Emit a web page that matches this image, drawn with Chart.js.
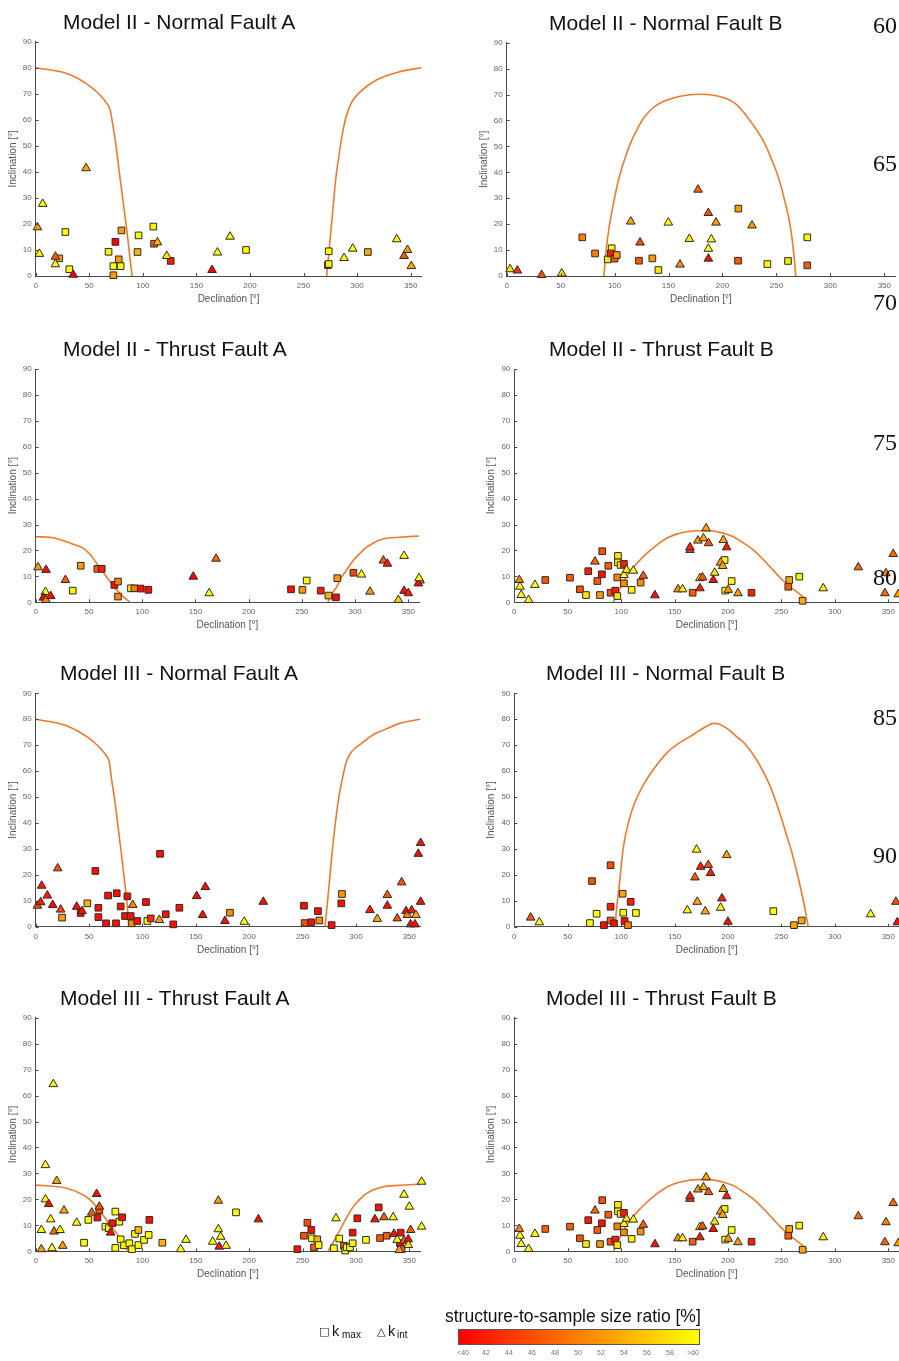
<!DOCTYPE html>
<html>
<head>
<meta charset="utf-8">
<script src="https://cdn.jsdelivr.net/npm/chart.js@4.4.0/dist/chart.umd.min.js"></script>
<style>
  html, body { margin: 0; padding: 0; background: #fff; }
  body { width: 899px; height: 1361px; position: relative; overflow: hidden; font-family: Arial, "Liberation Sans", sans-serif; }
  canvas { position: absolute; }
  .title { position: absolute; font-size: 21px; line-height: 1; color: #111; white-space: nowrap; transform: translateY(-50%); }
  .lineno { position: absolute; left: 873px; font-family: "Liberation Serif", "Times New Roman", serif; font-size: 24px; line-height: 1; color: #111; transform: translateY(-50%); }
  .abs { position: absolute; line-height: 1; white-space: nowrap; color: #111; will-change: transform; }
  .sym { font-family: "DejaVu Sans", sans-serif; font-size: 11px; }
  .cbl { position: absolute; top: 1349px; font-size: 7px; line-height: 1; color: #777; transform: translateX(-50%); will-change: transform; }
  .cbt { position: absolute; top: 1340px; width: 1px; height: 3px; background: #666; }
</style>
</head>
<body>
<div id="root"></div>
<script>
'use strict';

// rows are [declination, inclination, structure-to-sample size ratio %]
const m2NormalA_kmax = [[22,6.8,52],[27.7,16.9,60],[31.4,2.6,60],[68,9.3,59],[72.5,3.8,60],[72.5,0.3,52],[74.4,13.1,40],[77.5,6.4,52],[79.3,3.8,60],[80,17.5,52],[96,15.6,60],[95,9.2,54],[109.8,19,59],[110.5,12.4,47],[126,5.8,42],[196.3,10,60],[273.5,9.5,60],[272.8,4.2,42],[273.5,4.6,59],[310,9.2,53]];
const m2NormalA_kint = [[1.6,18.7,52],[3.4,8.5,60],[6.5,27.7,60],[18.4,7.4,47],[18.4,4.5,60],[35,0.5,40],[47,41.4,53],[113.6,12.9,54],[122.3,7.7,58],[164.6,2.3,40],[169.6,9,60],[181.4,15.1,59],[287.8,6.9,60],[295.9,10.5,60],[337,14.1,59],[343.8,7.7,47],[347,10,52],[350.6,3.8,53]];
const m2NormalA_curveL = [[0,80],[29,77.8],[49,73.4],[60,69.5],[66,66.5],[69.5,63.8],[72,58],[75,50],[78,40],[81,30.5],[84,21],[86.5,12.5],[88.5,5],[90,0]];
const m2NormalA_curveR = [[271.5,0],[273,6],[275,15],[277.5,26],[280,37],[283,46],[286,54],[289,60],[292,64],[296,67.5],[303,70.8],[318,75.3],[340,78.5],[360,80]];

const m2NormalB_kmax = [[70.1,14.9,50],[81.9,8.7,50],[93.6,6.4,58],[97.3,10.7,60],[96.4,8.7,42],[100,6.7,47],[102,8.1,52],[122.6,5.9,47],[135,6.8,52],[140.6,2.3,58],[214.7,26,52],[214.4,5.9,47],[241.6,4.6,60],[260.7,5.8,58],[278.6,14.9,60],[278.6,4.1,47]];
const m2NormalB_kint = [[3.1,2.6,58],[9.9,2.1,44],[32.4,0.4,46],[51,1,58],[115,21,53],[123.6,12.9,46],[149.8,20.6,60],[160.6,4.4,51],[169.3,14.3,59],[177.3,33.3,48],[186.9,24.3,46],[186.9,10.5,60],[186.9,6.7,41],[189.7,14.1,60],[194,20.6,52],[227.4,19.5,52]];
const m2NormalB_curve = [[90,0],[92.5,11],[95,19],[99,28],[103,36],[108,43.4],[114,50.5],[120.5,56.3],[128,61.5],[136,65],[145,67.3],[154,68.6],[165,69.6],[179,70.1],[193,69.6],[204,68.4],[212,66.5],[219,63.5],[228,58.5],[238,52],[246,44.5],[253,36.5],[258,28.5],[262.5,20],[265.5,11],[268,0]];

const m2ThrustA_kmax = [[34.8,4.5,59],[42.3,14.1,52],[57.9,12.9,47],[62,12.9,42],[73.9,6.7,41],[77.3,8,50],[77.3,2.2,51],[89.5,5.4,60],[92.7,5.4,50],[98.6,5.3,41],[105.8,4.8,41],[239.8,5,41],[250.5,4.8,52],[254.5,8.4,60],[267.7,4.5,42],[274.9,2.6,54],[282,1.9,41],[283.3,9.3,52],[298.4,11.4,45]];
const m2ThrustA_kint = [[2.2,13.5,52],[9.7,12.5,41],[9.1,4,60],[7.2,1.8,40],[9.7,0.9,50],[14.1,2.4,41],[27.9,8.6,47],[148,9.9,40],[163,3.5,60],[169.4,16.8,48],[306,10.7,60],[314,4.1,52],[326.5,16.1,47],[330.3,14.9,42],[340.6,0.9,56],[346,17.9,60],[346,4.4,41],[350,3.5,42],[361,8.4,50],[359.4,7.3,41],[360,9.3,60]];
const m2ThrustA_curveL = [[0,25.3],[15,25],[29,23.4],[38,22],[44.8,20.8],[51,18.5],[57.3,15],[63,11.8],[69.8,8],[76,4.8],[82.3,2.2],[86,0.8],[88.6,0]];
const m2ThrustA_curveR = [[274.5,0],[276.4,2],[282.7,6],[287,9.5],[292,12.5],[298,16],[304.6,18.9],[310,21],[317,22.8],[323,24],[329.7,24.7],[342,25.1],[360,25.6]];

const m2ThrustB_kmax = [[29,8.6,47],[52.1,9.5,47],[61.4,5,46],[67.1,2.8,58],[69.2,12,42],[77.7,8.2,47],[80.2,2.8,52],[82.3,19.7,46],[82,10.8,41],[88,14.1,47],[90.1,3.7,46],[94.5,4.5,42],[96.4,9.6,50],[97,17.9,58],[97,15.4,59],[96.4,2.4,58],[99.5,14.4,58],[102.6,14.8,42],[102.6,7.3,51],[109.8,4.8,59],[118.2,7.6,51],[166.9,3.7,47],[196.8,16.3,59],[197.4,4.5,60],[203.4,8.2,60],[222,3.7,42],[256.4,6,47],[257.3,8.6,53],[266.7,9.9,59],[269.8,0.6,53]];
const m2ThrustB_kint = [[4.7,8.6,50],[5.3,6,60],[6.5,2.8,60],[13.4,0.9,59],[19.3,6.7,60],[75.5,15.7,48],[102.6,10.5,60],[105.1,12.5,58],[111.4,12.2,60],[120.7,10.2,47],[131.6,2.7,41],[153.2,5,51],[157.5,5,59],[164.4,20.2,45],[164.4,21.2,42],[171.9,23.8,52],[173.7,9.3,58],[176.2,9.6,47],[173.7,5.4,42],[177,24.7,53],[179.5,28.5,53],[181.8,22.8,47],[186.2,8.6,41],[187.5,11.4,58],[193,15.3,52],[195,14,53],[195.6,24,53],[198.7,21.2,42],[200.2,4.8,52],[209.3,3.5,52],[289.1,5.4,59],[321.9,13.5,48],[347.8,11.2,50],[346.8,3.5,48],[354.6,18.6,48],[359.3,3.1,52]];
const m2ThrustB_curve = [[92.6,0],[98,4.5],[105,9.9],[114,14.7],[124,18.9],[133,22],[142.5,24.7],[152,26.3],[161,27.2],[172,27.6],[183,27.6],[194,26.8],[205,25.3],[214,23],[223.6,20.2],[233,16.5],[242,12.5],[250,9],[258,6],[265,3.8],[273.5,1]];

const m3NormalA_kmax = [[24.7,3.5,52],[42.1,5.3,41],[48.4,9,54],[55.9,21.5,41],[58.7,7.3,41],[58.7,3.7,41],[65.9,1.3,41],[67.8,12,41],[75.2,1.3,41],[75.9,12.9,41],[79.6,7.8,41],[83.7,4.1,41],[85.9,11.7,41],[89,4.1,41],[89.9,1.3,51],[95.2,2.2,41],[103.3,9.5,41],[104.6,2.2,60],[107.7,3.2,43],[116.5,28.1,41],[121.8,4.8,41],[128.9,0.9,41],[134.6,7.3,41],[182,5.4,51],[251.3,8.1,41],[251.9,1.4,46],[258.2,1.7,41],[264.4,6,41],[265.7,2.4,51],[277.2,0.6,41],[286.3,9,41],[286.9,12.6,52]];
const m3NormalA_kint = [[1.6,8.1,46],[4.7,9.4,42],[5.6,15.8,42],[10.9,12,42],[15.9,8.4,41],[20.6,22.5,46],[23.4,6.6,45],[38.4,7.7,41],[43.4,6,41],[90.9,8.4,50],[115.8,2.6,52],[150.8,11.8,41],[156.4,4.5,41],[158.9,15.3,41],[177.3,2.2,41],[195.4,1.9,60],[213.2,9.6,41],[313.1,6.4,42],[320,3,53],[329.4,12.2,47],[329.4,8.1,41],[338.7,3.2,46],[342.8,17.1,46],[346.9,6,41],[348.1,4.5,50],[351.2,0.9,41],[352.2,6.3,42],[356.2,4.5,53],[355.3,0.9,41],[358.4,28.1,41],[360.6,32.3,41],[360.6,9.6,41]];
const m3NormalA_curveL = [[0,80],[29,77.5],[49,73],[60,69],[66,66],[69,63.5],[71,57],[74,49],[77,39],[80,29],[83,18.5],[85.5,9],[87.5,0]];
const m3NormalA_curveR = [[271,0],[273,8],[275.5,19],[278,30],[281,41],[284,50],[287.5,57.5],[291,63.6],[296,67.5],[303.8,70.2],[318,74.5],[326,75.8],[341,78.4],[360,80]];

const m3NormalB_kmax = [[70.8,1.4,60],[72.7,17.6,46],[77,5,60],[83.9,0.6,41],[90.1,23.7,46],[90.1,7.7,42],[90.1,2.4,47],[93.3,1.3,41],[101.4,12.7,53],[102,5.4,59],[103.2,2.2,41],[106.4,0.6,50],[108.9,9.6,42],[113.8,5.3,60],[242.4,6,60],[261.7,0.6,53],[268.9,2.4,53]];
const m3NormalB_kint = [[15.3,3.5,47],[23.4,1.7,60],[161.9,6.3,59],[170.6,29.7,60],[169.1,19,47],[171.2,9.6,53],[174.4,23.1,42],[178.7,5.9,53],[181.5,23.8,46],[183.7,20.7,42],[193.1,7.3,59],[194.3,10.9,42],[198.7,27.6,53],[199.9,1.9,41],[333.4,4.8,60],[357.1,9.6,46],[358.4,1.7,41]];
const m3NormalB_curve = [[94.2,0],[96,8],[98.3,16],[100.4,25],[103,33],[106.7,40],[112,47],[120.7,54.6],[130,60.5],[144,67.5],[155,71],[164,73.2],[172,75.3],[180,77.3],[186,78.4],[192,78.1],[200,76.2],[208,73.3],[217,70],[228,63.5],[239,54.6],[245,48],[250,41.8],[255,35],[259.5,29],[263.5,22.5],[267.3,16],[271.5,8],[275,0]];

const m3ThrustA_kmax = [[45.3,3.3,60],[49.3,12.1,60],[57.8,13,41],[59.6,15.9,46],[65.3,9.5,60],[68.4,8.9,59],[71.8,10.8,41],[74.6,1.3,60],[74.6,15.3,60],[78.4,11.4,60],[80.9,13.1,41],[79.6,4.6,60],[82.7,2.3,59],[87.7,3.1,60],[90.2,0.8,60],[93,6.7,60],[96.2,8.2,54],[96.2,2.4,60],[101.5,4.4,60],[105.8,6.3,60],[106.5,12.1,41],[118.6,3.3,54],[187.6,15,60],[245.1,0.8,41],[251.3,6,46],[254.5,11,46],[258.2,8.2,41],[258.8,5,60],[260.7,1.5,47],[263.8,4.6,54],[265,2.4,60],[279.4,1.2,60],[284.4,4.9,60],[288.8,2.1,47],[290,0.3,60],[291.3,1.5,60],[294.4,1.5,60],[296.9,7.2,41],[296.9,3.1,59],[301.3,12.7,41],[309.4,4.4,60],[321.3,16.9,41],[322.6,5.1,47],[328.8,6,47],[341.9,7.2,41],[341.3,3.1,41],[342.8,0.8,47]];
const m3ThrustA_kint = [[5.3,0.8,52],[5.3,8.2,60],[9.1,33.2,60],[9.1,20,60],[12.2,18.2,41],[14,12.3,60],[15.3,1.2,60],[16.5,64.4,59],[17.2,7.6,48],[19.7,27.1,53],[22.8,8.2,60],[25.3,2.1,52],[26.5,15.7,53],[38.4,11,60],[52.5,14.9,47],[57.1,22.1,41],[59.6,17.2,46],[70.2,7.2,41],[135.8,0.8,60],[140.8,4.4,60],[165.8,3.7,60],[171.1,19.5,52],[171.1,8.5,59],[172,1.8,41],[173.3,5.6,60],[178.3,2.1,60],[208.6,12.3,41],[281.3,12.7,60],[317.8,12.3,41],[326.3,13.1,47],[334.9,13.1,60],[335.6,6.7,41],[338.7,4.4,60],[340.6,0.5,52],[345,21.8,60],[345,4.1,47],[349,4.6,41],[350,17.2,60],[351.2,8.2,47],[349,2.4,58],[361.5,26.8,59],[361.5,9.5,60]];
const m3ThrustA_curveL = [[0,25.5],[29,24.3],[44.6,21.7],[51,19.8],[57,17.2],[62,14.5],[66.5,12],[71,9.5],[75.9,6.9],[80,4.2],[83.7,1.8],[87,0]];
const m3ThrustA_curveR = [[274,0],[278,3],[281.5,5.5],[285,8.2],[291,12.8],[297.5,17.2],[304,20.2],[310,22.3],[317,23.8],[325.6,24.9],[340,25.4],[360,25.9]];

// the Model III thrust B panel repeats the Model II thrust B values
const m3ThrustB_kmax = m2ThrustB_kmax;
const m3ThrustB_kint = m2ThrustB_kint;
const m3ThrustB_curve = m2ThrustB_curve;

const colorbarLabels = ['<40','42','44','46','48','50','52','54','56','58','>60'];
const lineNumbers = ['60','65','70','75','80','85','90'];

// page layout: plot box [left, top, x=360 px, bottom] and title spot
const panels = [
  { title: 'Model II - Normal Fault A', kmax: m2NormalA_kmax, kint: m2NormalA_kint, curves: [m2NormalA_curveL, m2NormalA_curveR], box: [35.7, 41.7, 421.4, 276], tx: 63 },
  { title: 'Model II - Normal Fault B', kmax: m2NormalB_kmax, kint: m2NormalB_kint, curves: [m2NormalB_curve], box: [506.7, 42.7, 895.1, 276], tx: 549 },
  { title: 'Model II - Thrust Fault A', kmax: m2ThrustA_kmax, kint: m2ThrustA_kint, curves: [m2ThrustA_curveL, m2ThrustA_curveR], box: [35.7, 369, 419, 602.3], tx: 63 },
  { title: 'Model II - Thrust Fault B', kmax: m2ThrustB_kmax, kint: m2ThrustB_kint, curves: [m2ThrustB_curve], box: [514.3, 369, 899, 602.3], tx: 549 },
  { title: 'Model III - Normal Fault A', kmax: m3NormalA_kmax, kint: m3NormalA_kint, curves: [m3NormalA_curveL, m3NormalA_curveR], box: [35.7, 693.3, 420, 926.7], tx: 60 },
  { title: 'Model III - Normal Fault B', kmax: m3NormalB_kmax, kint: m3NormalB_kint, curves: [m3NormalB_curve], box: [514.3, 693.3, 899, 926.7], tx: 546 },
  { title: 'Model III - Thrust Fault A', kmax: m3ThrustA_kmax, kint: m3ThrustA_kint, curves: [m3ThrustA_curveL, m3ThrustA_curveR], box: [35.7, 1017.7, 420, 1251.3], tx: 60 },
  { title: 'Model III - Thrust Fault B', kmax: m3ThrustB_kmax, kint: m3ThrustB_kint, curves: [m3ThrustB_curve], box: [514.3, 1017.7, 899, 1251.3], tx: 546 }
];

Chart.defaults.font.family = 'Arial, "Liberation Sans", sans-serif';

function ratioColor(r) {
  let t = (r - 40) / 20;
  t = Math.max(0, Math.min(1, t));
  return 'rgb(255,' + Math.round(255 * t) + ',0)';
}

// matlab style ticks pointing into the plot
const inwardTicks = {
  id: 'inwardTicks',
  afterDraw(chart) {
    const ctx = chart.ctx;
    const xs = chart.scales.x, ys = chart.scales.y;
    const a = chart.chartArea;
    ctx.save();
    ctx.strokeStyle = '#4a4a4a';
    ctx.lineWidth = 1;
    ctx.beginPath();
    xs.ticks.forEach(t => {
      const px = Math.round(xs.getPixelForValue(t.value)) + 0.5;
      ctx.moveTo(px, a.bottom);
      ctx.lineTo(px, a.bottom - 3);
    });
    ys.ticks.forEach(t => {
      const py = Math.round(ys.getPixelForValue(t.value)) + 0.5;
      ctx.moveTo(a.left, py);
      ctx.lineTo(a.left + 3, py);
    });
    ctx.stroke();
    ctx.restore();
  }
};

function pointSet(rows, style, radius, order) {
  return {
    data: rows.map(r => ({ x: r[0], y: r[1] })),
    pointStyle: style,
    pointRadius: radius,
    pointBackgroundColor: rows.map(r => ratioColor(r[2])),
    pointBorderColor: '#2a2a2a',
    pointBorderWidth: 1,
    showLine: false,
    clip: false,
    order: order
  };
}

function curveSet(pts) {
  return {
    data: pts.map(p => ({ x: p[0], y: p[1] })),
    showLine: true,
    borderColor: '#f07a2a',
    borderWidth: 1.6,
    pointRadius: 0,
    cubicInterpolationMode: 'monotone',
    fill: false,
    order: 3
  };
}

const root = document.getElementById('root');
const Y_AXIS_W = 36, PAD_TOP = 12, PAD_RIGHT = 10, X_AXIS_H = 31;

panels.forEach(p => {
  const [L, T, R, B] = p.box;
  const cl = Math.round(L - Y_AXIS_W);
  const ct = Math.round(T - PAD_TOP);
  const cw = Math.ceil(R + PAD_RIGHT - cl);
  const ch = Math.round(B + X_AXIS_H - ct);
  const yw = L - cl;
  const xh = ct + ch - B;

  const canvas = document.createElement('canvas');
  canvas.width = cw;
  canvas.height = ch;
  canvas.style.left = cl + 'px';
  canvas.style.top = ct + 'px';
  canvas.style.width = cw + 'px';
  canvas.style.height = ch + 'px';
  root.appendChild(canvas);

  const title = document.createElement('div');
  title.className = 'title';
  title.textContent = p.title;
  title.style.left = p.tx + 'px';
  title.style.top = (T - 21) + 'px';
  root.appendChild(title);

  const datasets = p.curves.map(curveSet);
  datasets.push(pointSet(p.kmax, 'rect', 4.7, 2));
  datasets.push(pointSet(p.kint, 'triangle', 5, 1));

  new Chart(canvas, {
    type: 'scatter',
    data: { datasets: datasets },
    plugins: [inwardTicks],
    options: {
      responsive: false,
      animation: false,
      devicePixelRatio: 1,
      events: [],
      layout: { autoPadding: false, padding: { left: 0, top: T - ct, right: cl + cw - R, bottom: 0 } },
      plugins: { legend: { display: false }, tooltip: { enabled: false } },
      scales: {
        x: {
          type: 'linear', min: 0, max: 360,
          ticks: { stepSize: 50, includeBounds: false, autoSkip: false, maxRotation: 0, padding: 5, color: '#666', font: { size: 8 } },
          grid: { display: true, drawOnChartArea: false, drawTicks: false },
          border: { display: true, color: '#4a4a4a', width: 1 },
          title: { display: true, text: 'Declination [°]', color: '#555', font: { size: 10 }, padding: { top: 0, bottom: 2 } },
          afterFit: s => { s.height = xh; }
        },
        y: {
          type: 'linear', min: 0, max: 90,
          ticks: { stepSize: 10, includeBounds: false, autoSkip: false, padding: 4, color: '#666', font: { size: 8 } },
          grid: { display: true, drawOnChartArea: false, drawTicks: false },
          border: { display: true, color: '#4a4a4a', width: 1 },
          title: { display: true, text: 'Inclination [°]', color: '#555', font: { size: 10 }, padding: { top: 7.6, bottom: 0 } },
          afterFit: s => { s.width = yw; }
        }
      }
    }
  });
});

// manuscript line numbers at the right edge
const lineY = [25, 163.3, 301.7, 441.7, 576.7, 716.7, 855];
lineNumbers.forEach((n, i) => {
  const d = document.createElement('div');
  d.className = 'lineno';
  d.textContent = n;
  d.style.top = lineY[i] + 'px';
  root.appendChild(d);
});

// colorbar labels and ticks
const cbLeft = 463.3, cbStep = 23;
colorbarLabels.forEach((lab, i) => {
  const d = document.createElement('div');
  d.className = 'cbl';
  d.textContent = lab;
  d.style.left = (cbLeft + i * cbStep) + 'px';
  root.appendChild(d);
  const t = document.createElement('div');
  t.className = 'cbt';
  t.style.left = Math.round(cbLeft + i * cbStep) + 'px';
  root.appendChild(t);
});
</script>

<div class="abs sym" style="left:319px; top:1326px;">□</div>
<div class="abs" style="left:332px; top:1324.4px; font-size:14.5px;">k</div>
<div class="abs" style="left:341.5px; top:1330px; font-size:10px;">max</div>
<div class="abs sym" style="left:377px; top:1326px;">△</div>
<div class="abs" style="left:388px; top:1324.4px; font-size:14.5px;">k</div>
<div class="abs" style="left:397px; top:1330px; font-size:10px;">int</div>

<div class="abs" style="left:445px; top:1308.2px; font-size:17.5px;">structure-to-sample size ratio [%]</div>
<div style="position:absolute; left:457.7px; top:1329.3px; width:240px; height:14px; border:1px solid #555; background:linear-gradient(to right, #ff0000, #ffff00);"></div>
</body>
</html>
